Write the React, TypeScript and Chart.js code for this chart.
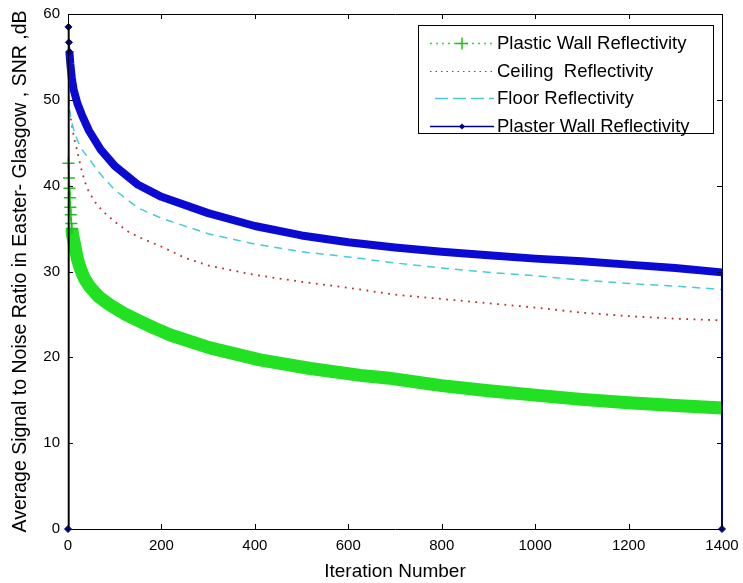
import React, { useEffect, useRef } from 'react';
import { Chart, registerables } from 'chart.js';
Chart.register(...registerables);

// ---------- data ----------
const seriesLabels = [
  'Plastic Wall Reflectivity',
  'Ceiling  Reflectivity',
  'Floor Reflectivity',
  'Plaster Wall Reflectivity',
];

const plasticX = [1, 2, 3, 4, 5, 6, 7, 8, 10, 15, 20, 26, 35, 47, 65, 90, 120, 154, 185, 219, 304, 411, 519, 626, 683, 800, 900, 1000, 1100, 1200, 1300, 1400];
const plasticY = [42.6, 40.9, 39.7, 38.6, 37.5, 36.6, 35.6, 35.0, 34.2, 32.9, 31.5, 30.4, 29.2, 28.2, 27.1, 26.1, 25.1, 24.2, 23.4, 22.6, 21.1, 19.7, 18.7, 17.9, 17.6, 16.7, 16.1, 15.6, 15.1, 14.7, 14.4, 14.1];

const ceilingX = [1, 4, 8, 12, 19, 30, 40, 55, 73, 100, 130, 160, 200, 250, 300, 400, 500, 600, 700, 800, 900, 1000, 1100, 1200, 1300, 1400];
const ceilingY = [49.5, 48.3, 47.2, 45.8, 44.2, 41.6, 39.8, 38.3, 37.1, 35.8, 34.6, 33.8, 32.9, 31.6, 30.7, 29.6, 28.8, 28.1, 27.3, 26.8, 26.3, 25.8, 25.2, 24.8, 24.5, 24.3];

const floorX = [1, 3, 6, 12, 20, 30, 47, 70, 100, 150, 200, 300, 400, 500, 600, 700, 800, 900, 1000, 1100, 1200, 1300, 1400];
const floorY = [50.5, 49.0, 47.8, 46.6, 45.3, 44.2, 43.0, 41.3, 39.5, 37.4, 36.2, 34.4, 33.2, 32.3, 31.7, 31.0, 30.4, 29.9, 29.5, 29.0, 28.6, 28.3, 27.9];

const plasterX = [0, 1, 2, 3, 5, 8, 12, 20, 30, 45, 70, 100, 150, 200, 300, 400, 500, 600, 700, 800, 900, 1000, 1100, 1200, 1300, 1400, 1400];
const plasterY = [0, 58.5, 56.7, 55.6, 54.2, 52.6, 51.2, 49.6, 48.2, 46.4, 44.2, 42.3, 40.1, 38.7, 36.8, 35.3, 34.2, 33.4, 32.8, 32.3, 31.9, 31.5, 31.2, 30.8, 30.4, 29.9, 0];

const xTicks = [0, 200, 400, 600, 800, 1000, 1200, 1400];
const yTicks = [0, 10, 20, 30, 40, 50, 60];

const xTitle = 'Iteration Number';
const yTitle = 'Average Signal to Noise Ratio in Easter- Glasgow , SNR ,dB';

// ---------- styles ----------
const GREEN = '#22e022';
const GREEN_DARK = '#20c020';
const RED = '#b83030';
const CYAN = '#48ccd4';
const BLUE = '#0a0ad2';
const NAVY = '#000088';
const FONT = "'Liberation Sans', Arial, sans-serif";

const zip = (xs: number[], ys: number[]) => xs.map((x, i) => ({ x, y: ys[i] }));

const axesPlugin = {
  id: 'matlabAxes',
  beforeDatasetsDraw(chart: any) {
    const { ctx, chartArea: a } = chart;
    ctx.save();
    ctx.strokeStyle = '#000';
    ctx.lineWidth = 1;
    ctx.beginPath();
    ctx.moveTo(a.right + 0.5, a.top);
    ctx.lineTo(a.right + 0.5, a.bottom);
    ctx.stroke();
    ctx.restore();
  },
  afterDatasetsDraw(chart: any) {
    const { ctx, chartArea: a, scales } = chart;
    const xs = scales.x, ys = scales.y;
    ctx.save();
    ctx.strokeStyle = '#000';
    ctx.lineWidth = 1;
    ctx.beginPath();
    ctx.moveTo(a.left + 0.5, a.bottom + 0.5);
    ctx.lineTo(a.left + 0.5, a.top + 0.5);
    ctx.lineTo(a.right + 0.5, a.top + 0.5);
    ctx.moveTo(a.left, a.bottom + 0.5);
    ctx.lineTo(a.right + 1, a.bottom + 0.5);
    const tl = 5;
    xTicks.forEach((v) => {
      const px = Math.round(xs.getPixelForValue(v)) + 0.5;
      ctx.moveTo(px, a.bottom);
      ctx.lineTo(px, a.bottom - tl);
      ctx.moveTo(px, a.top);
      ctx.lineTo(px, a.top + tl);
    });
    yTicks.forEach((v) => {
      const py = Math.round(ys.getPixelForValue(v)) + 0.5;
      ctx.moveTo(a.left, py);
      ctx.lineTo(a.left + tl, py);
      ctx.moveTo(a.right, py);
      ctx.lineTo(a.right - tl, py);
    });
    ctx.stroke();
    ctx.restore();
  },
};

const legendPlugin = {
  id: 'matlabLegend',
  afterDraw(chart: any) {
    const { ctx, chartArea: a } = chart;
    const right = a.right - 9;
    const top = a.top + 11;
    const w = 295, h = 108;
    const left = right - w;
    ctx.save();
    ctx.fillStyle = '#fff';
    ctx.fillRect(left, top, w, h);
    ctx.strokeStyle = '#000';
    ctx.lineWidth = 1;
    ctx.strokeRect(Math.round(left) + 0.5, Math.round(top) + 0.5, w, h);
    const sx0 = left + 12, sx1 = left + 76, sc = (sx0 + sx1) / 2;
    seriesLabels.forEach((label, i) => {
      const y = Math.round(top + 18 + i * 27.5) + 0.5;
      ctx.save();
      ctx.beginPath();
      if (i === 0) {
        ctx.strokeStyle = GREEN;
        ctx.lineWidth = 1.5;
        ctx.setLineDash([2, 4]);
      } else if (i === 1) {
        ctx.strokeStyle = RED;
        ctx.lineWidth = 1.2;
        ctx.setLineDash([1.5, 4]);
      } else if (i === 2) {
        ctx.strokeStyle = CYAN;
        ctx.lineWidth = 1.5;
        ctx.setLineDash([13, 5]);
      } else {
        ctx.strokeStyle = NAVY;
        ctx.lineWidth = 1.5;
        ctx.setLineDash([]);
      }
      ctx.moveTo(i === 2 ? sx0 + 5 : sx0, y);
      ctx.lineTo(sx1, y);
      ctx.stroke();
      ctx.setLineDash([]);
      if (i === 0) {
        ctx.strokeStyle = GREEN_DARK;
        ctx.lineWidth = 1.5;
        ctx.beginPath();
        ctx.moveTo(sc - 6, y);
        ctx.lineTo(sc + 6, y);
        ctx.moveTo(sc, y - 6);
        ctx.lineTo(sc, y + 6);
        ctx.stroke();
      } else if (i === 3) {
        ctx.fillStyle = NAVY;
        ctx.beginPath();
        ctx.moveTo(sc, y - 3);
        ctx.lineTo(sc + 3, y);
        ctx.lineTo(sc, y + 3);
        ctx.lineTo(sc - 3, y);
        ctx.closePath();
        ctx.fill();
      }
      ctx.restore();
      ctx.fillStyle = '#000';
      ctx.font = `18.5px ${FONT}`;
      ctx.textBaseline = 'middle';
      ctx.textAlign = 'left';
      ctx.fillText(label, sx1 + 3, y);
    });
    ctx.restore();
  },
};

export default function App() {
  const ref = useRef<HTMLCanvasElement>(null);
  useEffect(() => {
    const chart = new Chart(ref.current as HTMLCanvasElement, {
      type: 'line',
      data: {
        datasets: [
          {
            label: seriesLabels[0],
            data: zip(plasticX, plasticY),
            borderColor: GREEN,
            borderWidth: 13,
            borderCapStyle: 'butt',
            borderJoinStyle: 'round',
            pointStyle: 'cross',
            pointRadius: (c: any) => (c.dataIndex < 8 ? 6 : 0),
            pointBorderColor: GREEN_DARK,
            pointBorderWidth: 1.5,
            segment: {
              borderWidth: (c: any) => (c.p0DataIndex < 7 ? 1 : 13),
            },
            clip: 8,
            order: 4,
          },
          {
            label: seriesLabels[1],
            data: zip(ceilingX, ceilingY),
            borderColor: RED,
            borderWidth: 1.8,
            borderDash: [1.8, 5.5],
            pointRadius: 0,
            order: 3,
          },
          {
            label: seriesLabels[2],
            data: zip(floorX, floorY),
            borderColor: CYAN,
            borderWidth: 1.5,
            borderDash: [8, 6],
            pointRadius: 0,
            order: 2,
          },
          {
            label: seriesLabels[3],
            data: zip(plasterX, plasterY),
            borderColor: BLUE,
            borderWidth: 8,
            borderCapStyle: 'butt',
            borderJoinStyle: 'round',
            pointStyle: 'rectRot',
            pointRadius: (c: any) => (c.dataIndex < 4 || c.dataIndex === plasterX.length - 1 ? 3.5 : 0),
            pointBackgroundColor: NAVY,
            pointBorderColor: NAVY,
            pointBorderWidth: 1,
            segment: {
              borderWidth: (c: any) =>
                c.p0DataIndex < 3 || c.p0DataIndex === plasterX.length - 2 ? 2 : 8,
              borderColor: (c: any) =>
                c.p0DataIndex < 3 || c.p0DataIndex === plasterX.length - 2 ? NAVY : BLUE,
            },
            clip: 8,
            order: 1,
          },
        ],
      },
      options: {
        animation: false,
        responsive: false,
        devicePixelRatio: 1,
        events: [],
        layout: { padding: { top: 14, right: 21, left: 0, bottom: 0 } },
        plugins: {
          legend: { display: false },
          tooltip: { enabled: false },
        },
        elements: { line: { tension: 0 } },
        scales: {
          x: {
            type: 'linear',
            min: 0,
            max: 1400,
            afterBuildTicks: (s: any) => {
              s.ticks = xTicks.map((v) => ({ value: v }));
            },
            afterFit: (s: any) => {
              s.height = 54;
              s.paddingLeft = 0;
              s.paddingRight = 0;
            },
            grid: { display: false, drawTicks: false },
            border: { display: false },
            ticks: {
              color: '#000',
              padding: 8,
              maxRotation: 0,
              autoSkip: false,
              callback: (v: any) => String(v),
              font: { family: FONT, size: 15 },
            },
            title: {
              display: true,
              text: xTitle,
              color: '#000',
              font: { family: FONT, size: 19, lineHeight: 1 },
              padding: { top: 0, bottom: 2 },
            },
          },
          y: {
            type: 'linear',
            min: 0,
            max: 60,
            afterBuildTicks: (s: any) => {
              s.ticks = yTicks.map((v) => ({ value: v }));
            },
            afterFit: (s: any) => {
              s.width = 68;
              s.paddingTop = 0;
              s.paddingBottom = 0;
            },
            grid: { display: false, drawTicks: false },
            border: { display: false },
            ticks: {
              color: '#000',
              padding: 8,
              autoSkip: false,
              callback: (v: any) => String(v),
              font: { family: FONT, size: 15 },
            },
            title: {
              display: true,
              text: yTitle,
              color: '#000',
              font: { family: FONT, size: 19.5, lineHeight: 1 },
              padding: { top: 11, bottom: 0 },
            },
          },
        },
      },
      plugins: [axesPlugin, legendPlugin],
    } as any);
    return () => chart.destroy();
  }, []);
  return (
    <div style={{ position: 'absolute', left: 0, top: 0, width: 743, height: 583, background: '#fff' }}>
      <canvas ref={ref} width={743} height={583} style={{ display: 'block' }} />
    </div>
  );
}
